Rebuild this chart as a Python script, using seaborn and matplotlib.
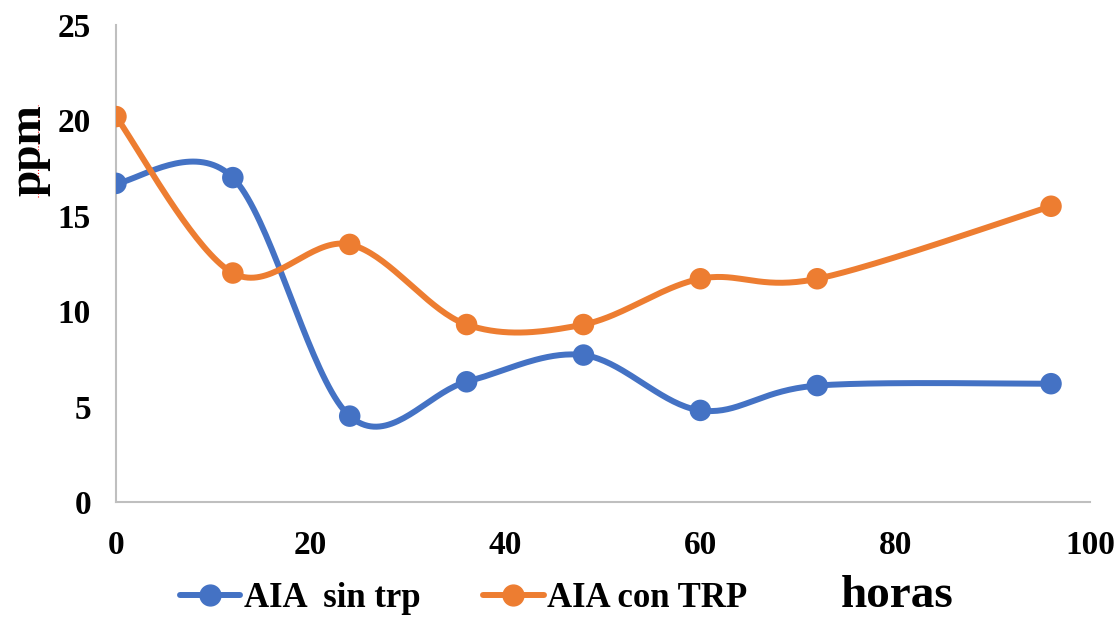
import numpy as np
import pandas as pd
import matplotlib
matplotlib.use("Agg")
import matplotlib.pyplot as plt
from matplotlib.lines import Line2D
import seaborn as sns

# data
horas = [0, 12, 24, 36, 48, 60, 72, 96]
sin_trp = [16.7, 17.0, 4.5, 6.3, 7.7, 4.8, 6.1, 6.2]
con_trp = [20.2, 12.0, 13.5, 9.3, 9.3, 11.7, 11.7, 15.5]
series_names = ["AIA  sin trp", "AIA con TRP"]
colors = ["#4472C4", "#ED7D31"]
y_ticks = [0, 5, 10, 15, 20, 25]
x_ticks = [0, 20, 40, 60, 80, 100]


def smooth_curve(x, y, n=40):
    # Excel-like smoothed line: cubic Bezier segments, tension 1/6
    p = np.column_stack([x, y]).astype(float)
    ext = np.vstack([p[0], p, p[-1]])
    out = []
    t = np.linspace(0, 1, n)[:, None]
    for i in range(len(p) - 1):
        p0, p3 = p[i], p[i + 1]
        c1 = p0 + (ext[i + 2] - ext[i]) / 6.0
        c2 = p3 - (ext[i + 3] - ext[i + 1]) / 6.0
        seg = ((1 - t) ** 3) * p0 + 3 * ((1 - t) ** 2) * t * c1 + 3 * (1 - t) * t ** 2 * c2 + t ** 3 * p3
        out.append(seg if i == 0 else seg[1:])
    s = np.vstack(out)
    return s[:, 0], s[:, 1]


sns.set_style("white")
plt.rcParams["font.family"] = ["Liberation Serif", "DejaVu Serif"]
plt.rcParams["font.weight"] = "bold"
plt.rcParams["text.color"] = "black"
plt.rcParams["xtick.color"] = "black"
plt.rcParams["ytick.color"] = "black"

points = pd.DataFrame({
    "horas": horas * 2,
    "ppm": sin_trp + con_trp,
    "serie": [series_names[0]] * len(horas) + [series_names[1]] * len(horas),
})
curves = []
for name, vals in zip(series_names, [sin_trp, con_trp]):
    sx, sy = smooth_curve(horas, vals)
    curves.append(pd.DataFrame({"horas": sx, "ppm": sy, "serie": name}))
curves = pd.concat(curves, ignore_index=True)

fig = plt.figure(figsize=(11.17, 6.17), dpi=100)
ax = fig.add_axes([0.1038, 0.1864, 0.872, 0.7731])

sns.lineplot(data=curves, x="horas", y="ppm", hue="serie", palette=colors,
             sort=False, estimator=None, linewidth=4.3, legend=False, ax=ax)
sns.scatterplot(data=points, x="horas", y="ppm", hue="serie", palette=colors,
                s=240, edgecolor="none", legend=False, ax=ax, zorder=3)

ax.set_xlim(0, 100)
ax.set_ylim(0, 25)
ax.set_xticks(x_ticks)
ax.set_yticks(y_ticks)
ax.set_xlabel("")
ax.set_ylabel("")
ax.tick_params(axis="both", length=0, labelsize=24, labelcolor="black")
ax.tick_params(axis="y", pad=18)
ax.tick_params(axis="x", pad=20)
for lab in ax.get_xticklabels() + ax.get_yticklabels():
    lab.set_fontweight("bold")

for side in ["top", "right"]:
    ax.spines[side].set_visible(False)
for side in ["left", "bottom"]:
    ax.spines[side].set_color("#BFBFBF")
    ax.spines[side].set_linewidth(1.5)

# axis titles placed like the original
fig.text(0.026, 0.757, "ppm", rotation=90, ha="center", va="center",
         fontsize=34, fontweight="bold")
fig.add_artist(Line2D([0.034, 0.034], [0.68, 0.83], transform=fig.transFigure,
                      color="red", linewidth=0.8, linestyle=":"))
fig.text(0.803, 0.034, "horas", ha="center", va="center",
         fontsize=34, fontweight="bold")

handles = [Line2D([0], [0], color=c, linewidth=4.3, marker="o", markersize=15)
           for c in colors]
fig.legend(handles, series_names, loc="center", ncol=2,
           bbox_to_anchor=(0.415, 0.03), frameon=False,
           prop={"size": 25, "weight": "bold"}, handlelength=1.75,
           handletextpad=0.1, columnspacing=1.8, borderpad=0.1)

fig.savefig("out.png", dpi=100)
